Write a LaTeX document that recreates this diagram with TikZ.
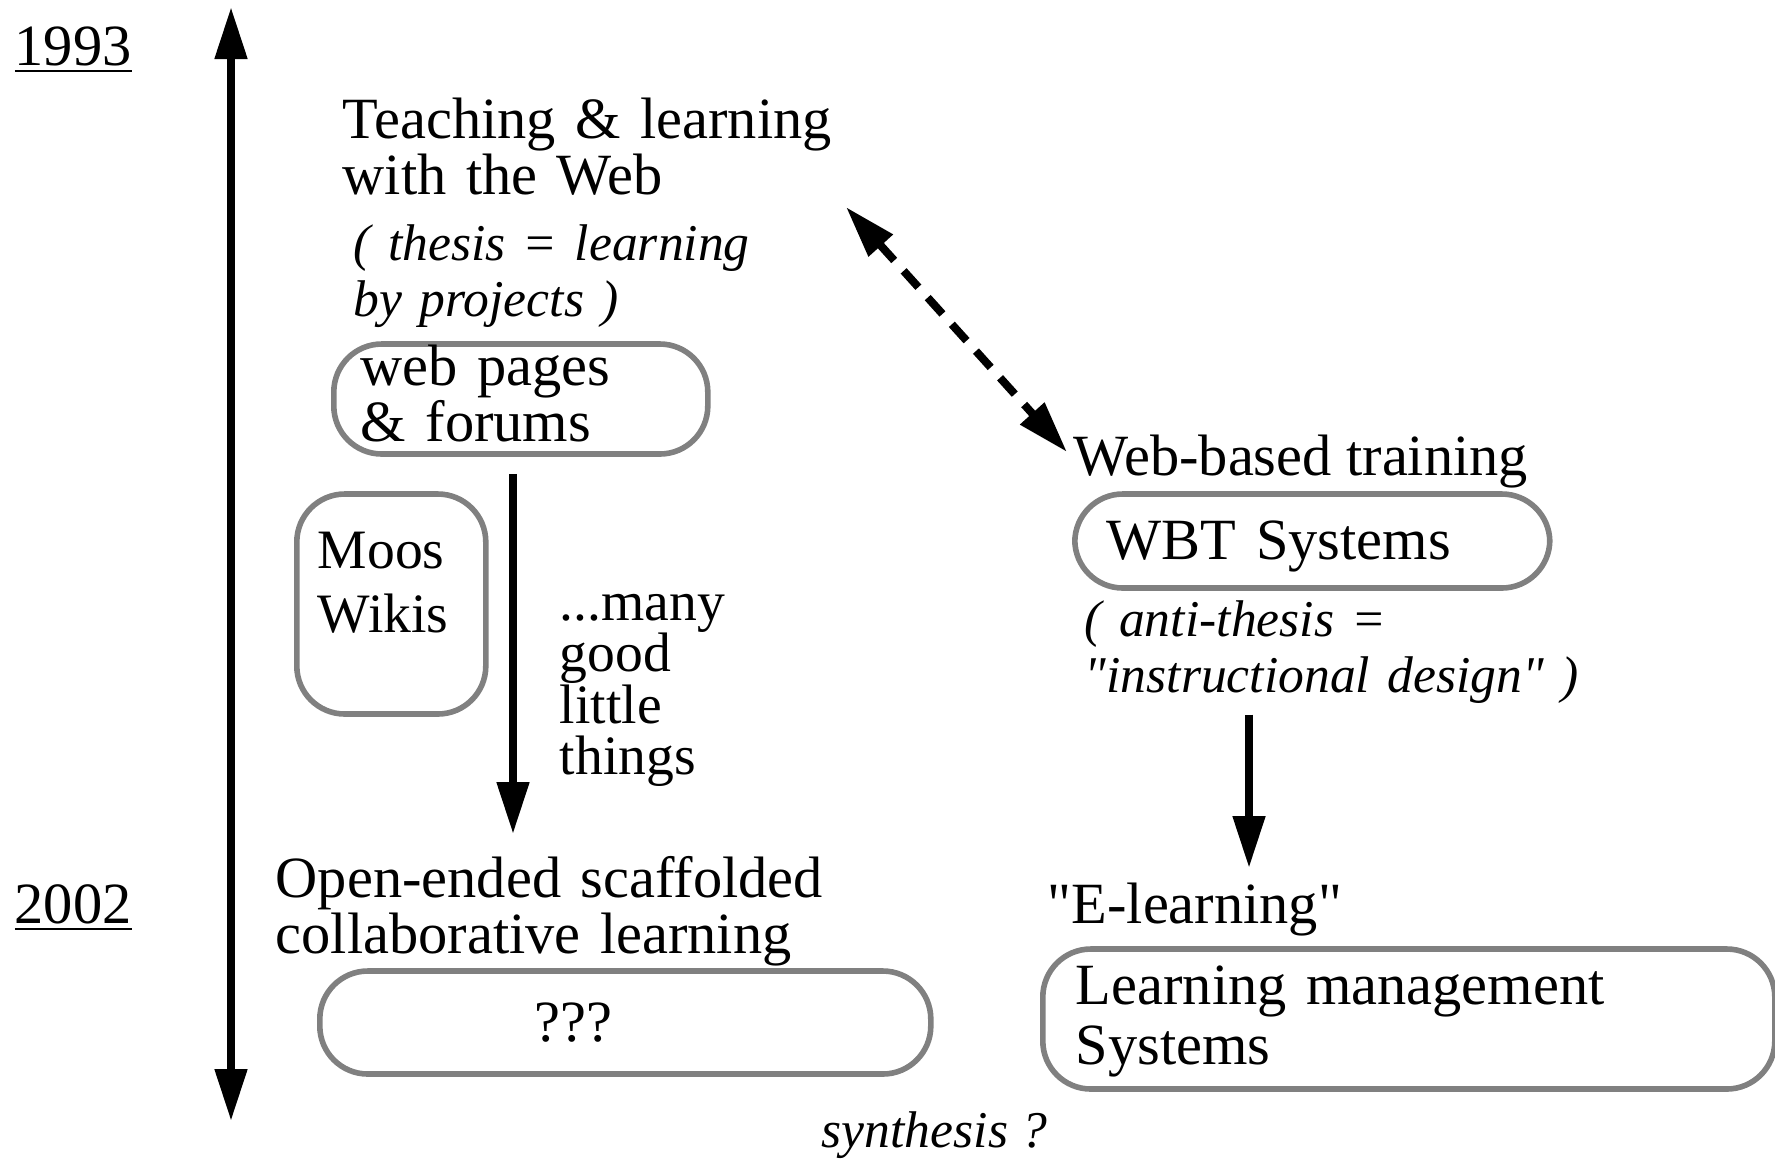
\documentclass[tikz,border=0pt]{standalone}
\usepackage{fontspec}
\setmainfont{Liberation Serif}[Ligatures=TeXOff]
\usepackage{tikz}
\usetikzlibrary{positioning, arrows.meta}
\definecolor{boxgray}{RGB}{128,128,128}
\newcommand{\mainfs}{\fontsize{14.6pt}{14.2pt}\selectfont}
\newcommand{\notefs}{\fontsize{12.9pt}{14.2pt}\selectfont\itshape}
\newcommand{\smallfs}{\fontsize{13.9pt}{16pt}\selectfont}

\begin{document}
\begin{tikzpicture}[x=0.25pt, y=-0.25pt, >={Triangle[length=13pt, width=7.75pt]},
  txt/.style={inner sep=0pt, anchor=base west, align=left, font=\mainfs},
  box/.style={draw=boxgray, line width=1.4pt, rounded corners=12pt, inner ysep=0pt,
    anchor=base west, align=left, font=\mainfs},
  arr/.style={line width=2pt}]
  \useasboundingbox (0,0) rectangle (1775,1159);

  \node[txt] (Y1) at (14,65) {\underline{1993}};
  \node[txt] (Y2) at (14,923) {\underline{2002}};
  \coordinate (T0) at (231,7);
  \coordinate (T1) at (231,1121);

  \node[txt, text width=150pt] (TW) at (342,138) {Teaching \& learning\\with the Web};
  \node[txt, font=\notefs, text width=150pt] (TH) at (353,260) {( thesis = learning\\by projects )};
  \node[box, inner xsep=6.75pt, text width=80pt, text height=10.25pt, text depth=17.25pt] (WP) at (331,385) {web pages\\\& forums};
  \node[box, font=\smallfs, inner xsep=5.25pt, text width=36.75pt, text height=18.5pt, text depth=36.5pt] (MW) at (294,568) {Moos\\Wikis};
  \node[txt, font={\fontsize{13.9pt}{12.9pt}\selectfont}, text width=60pt] (MG) at (559,620) {...many\\good\\little\\things};
  \node[txt, text width=160pt] (OE) at (275,897) {Open-ended scaffolded\\collaborative learning};
  \node[box, inner xsep=53.75pt, text width=45.25pt, text height=17.5pt, text depth=8.25pt] (Q) at (317,1041) {???};
  \node[txt, font=\notefs] (S) at (821,1147) {synthesis ?};

  \node[txt] (WB) at (1073,475) {Web-based training};
  \node[box, inner xsep=8pt, text width=102.75pt, text height=16.25pt, text depth=7.25pt] (WS) at (1072,559) {WBT Systems};
  \node[txt, font=\notefs, text width=160pt] (AT) at (1084,636) {( anti-thesis =\\"instructional design" )};
  \node[txt] (EL) at (1047,923) {"E-learning"};
  \node[box, font={\fontsize{14.6pt}{15pt}\selectfont}, inner xsep=8.25pt, text width=166.5pt, text height=13.75pt, text depth=21.25pt] (LM) at (1040,1004) {Learning management\\Systems};

  \coordinate (D1) at (513,834);
  \coordinate (D2) at (1249,868);
  \coordinate (E0) at (846,207);
  \coordinate (E1) at (1067,452);

  \draw[<->, arr] (T0) -- (T1);
  \draw[->, arr, shorten <=4.25pt] (WP.south -| D1) -- (D1);
  \draw[->, arr, shorten <=2.5pt] (AT.south -| D2) -- (D2);
  \draw[<->, arr, dash pattern=on 5.5pt off 3.5pt] (E0) -- (E1);
\end{tikzpicture}
\end{document}
